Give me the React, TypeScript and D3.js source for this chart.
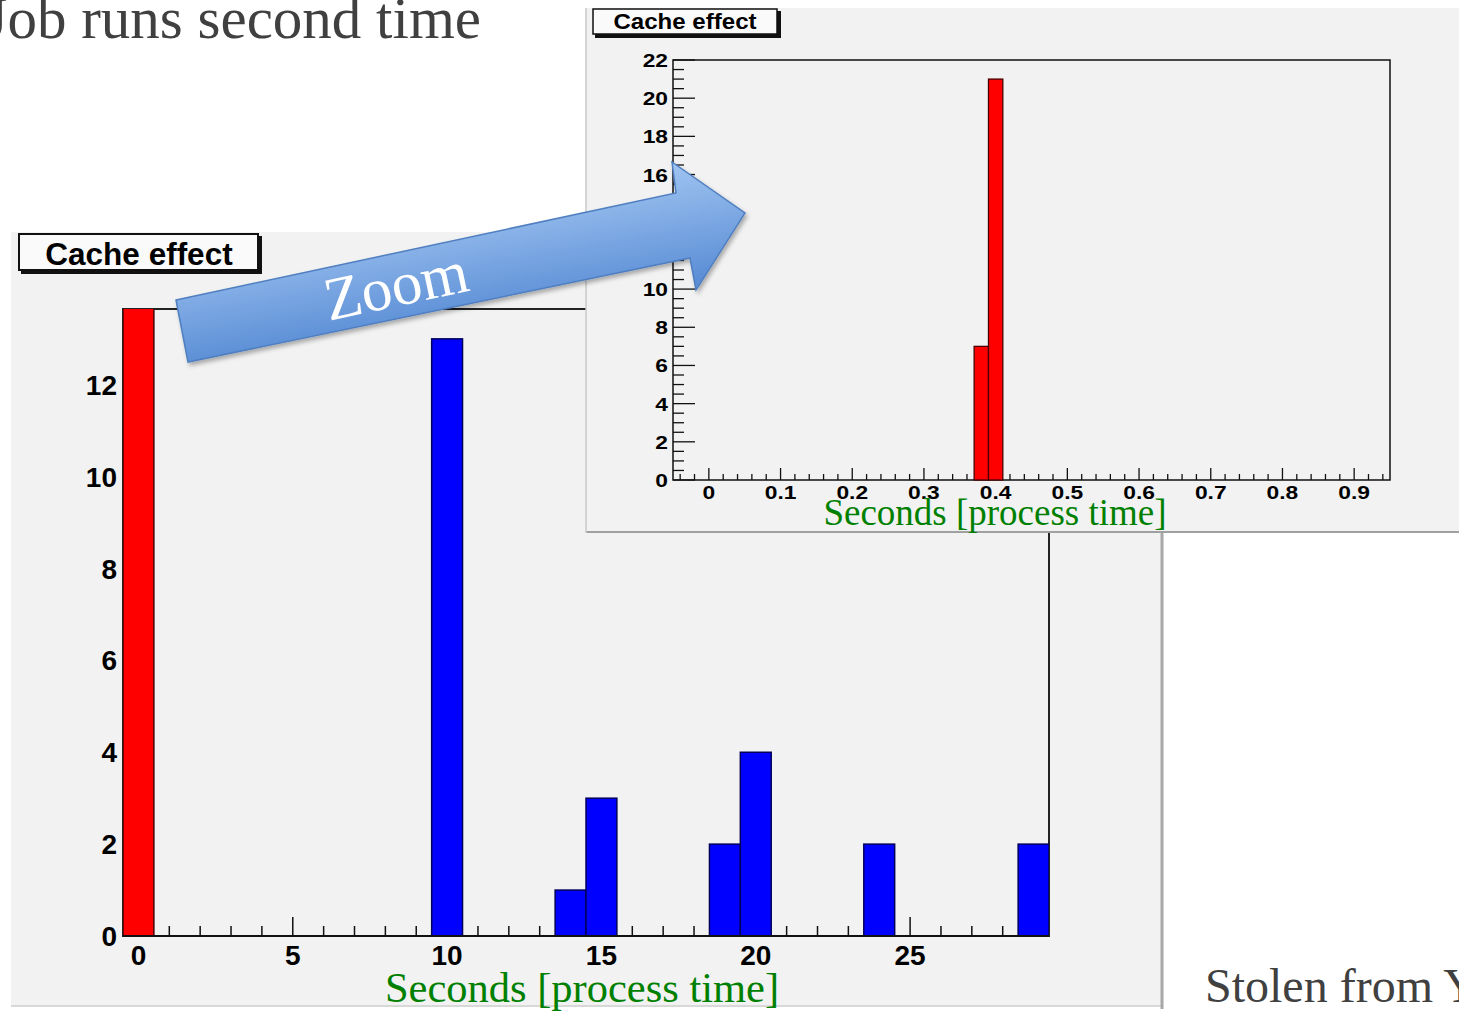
import React from "react";
import * as d3 from "d3";

// histogram contents
const wideRedCenters = [0];
const wideRedCounts = [28];
const wideBlueCenters = [10, 14, 15, 19, 20, 24, 29];
const wideBlueCounts = [13, 1, 3, 2, 4, 2, 2];
const wideBinWidth = 1;

const zoomBinStarts = [0.37, 0.39];
const zoomCounts = [7, 21];
const zoomBinWidth = 0.02;

// tick labels
const wideXLabels = [0, 5, 10, 15, 20, 25];
const wideYLabels = [0, 2, 4, 6, 8, 10, 12];
const zoomXLabels = [0, 0.1, 0.2, 0.3, 0.4, 0.5, 0.6, 0.7, 0.8, 0.9];
const zoomYLabels = [0, 2, 4, 6, 8, 10, 12, 14, 16, 18, 20, 22];

const SANS = "'Liberation Sans', Arial, sans-serif";
const SERIF = "'Liberation Serif', 'Times New Roman', serif";
const GREEN = "#008000";
const PANEL = "#f2f2f2";

const App = () => {
  const W = 1459;
  const H = 1011;

  // wide histogram frame
  const xL = d3.scaleLinear().domain([-0.5, 29.5]).range([123, 1049]);
  const yL = d3.scaleLinear().domain([0, 13.65]).range([936, 309]);
  // zoomed histogram frame
  const xR = d3.scaleLinear().domain([-0.05, 0.95]).range([673, 1390]);
  const yR = d3.scaleLinear().domain([0, 22]).range([480, 60]);

  const wideMinor = d3.range(0, 30, 1);
  const zoomXMinor = d3.range(-2, 48).map((i) => i * 0.02);
  const zoomYMinor = d3.range(0, 45).map((i) => i * 0.5);

  const arrow = [
    [176, 300],
    [676, 193],
    [672, 162],
    [745, 213],
    [696, 290],
    [690, 258],
    [188, 362],
  ];

  return (
    <svg
      width={W}
      height={H}
      style={{ position: "absolute", left: 0, top: 0, background: "#fff" }}
    >
      <defs>
        <clipPath id="wideClip">
          <rect x={123} y={309} width={926} height={627} />
        </clipPath>
        <linearGradient
          id="arrowFill"
          gradientUnits="userSpaceOnUse"
          x1={440}
          y1={190}
          x2={462}
          y2={320}
        >
          <stop offset="0" stopColor="#a6c9f3" />
          <stop offset="1" stopColor="#5b8ed6" />
        </linearGradient>
        <filter id="shadow" x="-10%" y="-10%" width="120%" height="130%">
          <feDropShadow dx="2" dy="3" stdDeviation="2" floodColor="#000" floodOpacity="0.3" />
        </filter>
      </defs>

      <text
        x={481}
        y={38}
        textAnchor="end"
        fontFamily={SERIF}
        fontSize={59}
        fill="#404040"
      >
        Job runs second time
      </text>

      {/* wide canvas */}
      <rect x={11} y={232} width={1151} height={774} fill={PANEL} />
      <line x1={11} x2={1162} y1={1006} y2={1006} stroke="#d8d8d8" strokeWidth={2} />
      <line x1={1162} x2={1162} y1={232} y2={1009} stroke="#a8a8a8" strokeWidth={3} />

      <rect x={21} y={236} width={241} height={38} fill="#111" />
      <rect x={19} y={234} width={239} height={36} fill="#fafafa" stroke="#111" strokeWidth={2} />
      <text
        x={139}
        y={265}
        textAnchor="middle"
        fontFamily={SANS}
        fontWeight="bold"
        fontSize={31.5}
        fill="#000"
      >
        Cache effect
      </text>

      {/* frame */}
      <rect x={123} y={309} width={926} height={627} fill="none" stroke="#222" strokeWidth={2} />

      {/* y ticks of the wide frame */}
      {d3.range(0, 13.5, 0.5).map((v) => (
        <line
          key={"wy" + v}
          x1={xL(-0.5)}
          x2={xL(-0.5) + (v % 2 === 0 ? 28 : 14)}
          y1={yL(v)}
          y2={yL(v)}
          stroke="#111"
          strokeWidth={1.5}
        />
      ))}
      {wideMinor.map((v) => (
        <line
          key={"wx" + v}
          x1={xL(v)}
          x2={xL(v)}
          y1={yL(0)}
          y2={yL(0) - (v % 5 === 0 ? 19 : 10)}
          stroke="#111"
          strokeWidth={1.5}
        />
      ))}

      <g clipPath="url(#wideClip)">
        {wideBlueCenters.map((c, i) => (
          <rect
            key={"b" + i}
            x={xL(c - wideBinWidth / 2)}
            y={yL(wideBlueCounts[i])}
            width={xL(c + wideBinWidth / 2) - xL(c - wideBinWidth / 2)}
            height={yL(0) - yL(wideBlueCounts[i])}
            fill="#0000ff"
            stroke="#00005a"
            strokeWidth={1.5}
          />
        ))}
        {wideRedCenters.map((c, i) => (
          <rect
            key={"r" + i}
            x={xL(c - wideBinWidth / 2)}
            y={yL(wideRedCounts[i])}
            width={xL(c + wideBinWidth / 2) - xL(c - wideBinWidth / 2)}
            height={yL(0) - yL(wideRedCounts[i])}
            fill="#ff0000"
            stroke="#4a0000"
            strokeWidth={1.5}
          />
        ))}
      </g>
      <line x1={123} x2={1049} y1={936} y2={936} stroke="#111" strokeWidth={2} />

      {wideYLabels.map((v) => (
        <text
          key={"wyl" + v}
          x={117}
          y={yL(v) + 10}
          textAnchor="end"
          fontFamily={SANS}
          fontWeight="bold"
          fontSize={28}
          fill="#000"
        >
          {v}
        </text>
      ))}
      {wideXLabels.map((v) => (
        <text
          key={"wxl" + v}
          x={xL(v)}
          y={965}
          textAnchor="middle"
          fontFamily={SANS}
          fontWeight="bold"
          fontSize={28}
          fill="#000"
        >
          {v}
        </text>
      ))}
      <text
        x={582}
        y={1002}
        textAnchor="middle"
        fontFamily={SERIF}
        fontSize={42.5}
        fill={GREEN}
      >
        Seconds [process time]
      </text>

      {/* zoomed canvas */}
      <rect x={586} y={8} width={880} height={524} fill={PANEL} />
      <line x1={586} x2={1459} y1={532} y2={532} stroke="#a0a0a0" strokeWidth={2} />
      <line x1={586} x2={586} y1={8} y2={533} stroke="#c8c8c8" strokeWidth={1.5} />

      <rect x={595} y={11} width={186} height={27} fill="#111" />
      <rect x={593} y={9} width={184} height={25} fill="#fafafa" stroke="#111" strokeWidth={1.5} />
      <text
        transform="translate(685,29) scale(1.12,1)"
        textAnchor="middle"
        fontFamily={SANS}
        fontWeight="bold"
        fontSize={21.5}
        fill="#000"
      >
        Cache effect
      </text>

      <rect x={673} y={60} width={717} height={420} fill="none" stroke="#111" strokeWidth={1.5} />
      {zoomYMinor.map((v) => (
        <line
          key={"zy" + v}
          x1={xR(-0.05)}
          x2={xR(-0.05) + (v % 2 === 0 ? 22 : 11)}
          y1={yR(v)}
          y2={yR(v)}
          stroke="#111"
          strokeWidth={1.3}
        />
      ))}
      {zoomXMinor.map((v, i) => (
        <line
          key={"zx" + i}
          x1={xR(v)}
          x2={xR(v)}
          y1={yR(0)}
          y2={yR(0) - ((i - 2) % 5 === 0 ? 12 : 6)}
          stroke="#111"
          strokeWidth={1.3}
        />
      ))}
      {zoomBinStarts.map((s, i) => (
        <rect
          key={"zr" + i}
          x={xR(s)}
          y={yR(zoomCounts[i])}
          width={xR(s + zoomBinWidth) - xR(s)}
          height={yR(0) - yR(zoomCounts[i])}
          fill="#ff0000"
          stroke="#4a0000"
          strokeWidth={1.3}
        />
      ))}
      {zoomYLabels.map((v) => (
        <text
          key={"zyl" + v}
          transform={`translate(668,${yR(v) + 7}) scale(1.2,1)`}
          textAnchor="end"
          fontFamily={SANS}
          fontWeight="bold"
          fontSize={19}
          fill="#000"
        >
          {v}
        </text>
      ))}
      {zoomXLabels.map((v) => (
        <text
          key={"zxl" + v}
          transform={`translate(${xR(v)},499) scale(1.2,1)`}
          textAnchor="middle"
          fontFamily={SANS}
          fontWeight="bold"
          fontSize={19}
          fill="#000"
        >
          {v}
        </text>
      ))}
      <text
        x={995}
        y={525}
        textAnchor="middle"
        fontFamily={SERIF}
        fontSize={37}
        fill={GREEN}
      >
        Seconds [process time]
      </text>

      {/* zoom arrow */}
      <polygon
        points={arrow.map((p) => p.join(",")).join(" ")}
        fill="url(#arrowFill)"
        stroke="#4f7fc0"
        strokeWidth={1.5}
        filter="url(#shadow)"
      />
      <text
        transform="translate(396,286) rotate(-12)"
        y={20}
        textAnchor="middle"
        fontFamily={SERIF}
        fontSize={61}
        fill="#fff"
      >
        Zoom
      </text>

      <text x={1205} y={1002} fontFamily={SERIF} fontSize={48} fill="#404040">
        Stolen from Y
      </text>
    </svg>
  );
};

export default App;
